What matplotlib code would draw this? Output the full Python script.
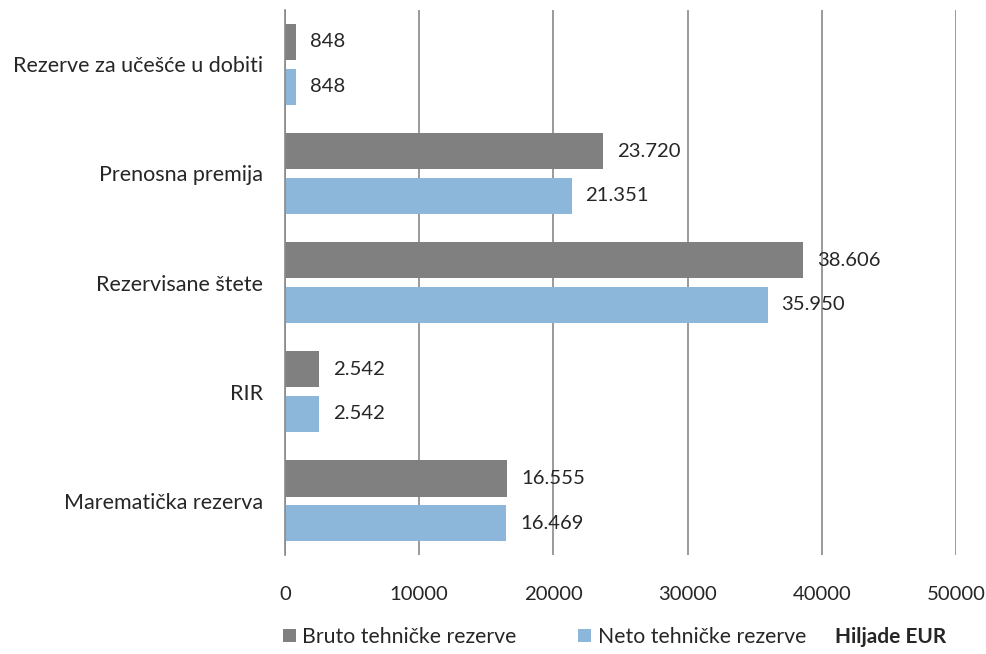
import numpy as np
import matplotlib.pyplot as plt

# data (bottom to top)
categories = ['Marematička rezerva', 'RIR', 'Rezervisane štete', 'Prenosna premija', 'Rezerve za učešće u dobiti']
bruto = [16555, 2542, 38606, 23720, 848]
neto = [16469, 2542, 35950, 21351, 848]
bruto_lbl = ['16.555', '2.542', '38.606', '23.720', '848']
neto_lbl = ['16.469', '2.542', '35.950', '21.351', '848']

plt.rcParams['font.family'] = ['Lato', 'DejaVu Sans']
fs = 14.6

fig = plt.figure(figsize=(9.86, 6.54), dpi=100)
ax = fig.add_axes([0.289, 0.151, 0.6807, 0.834])

y = np.arange(len(categories))
h = 0.333
off = 0.205
b1 = ax.barh(y + off, bruto, h, color='#808080', label='Bruto tehničke rezerve')
b2 = ax.barh(y - off, neto, h, color='#8db6db', label='Neto tehničke rezerve')

for rects, lbls in ((b1, bruto_lbl), (b2, neto_lbl)):
    for r, t in zip(rects, lbls):
        ax.annotate(t, (r.get_width(), r.get_y() + r.get_height() / 2),
                    xytext=(10, 0), textcoords='offset points',
                    ha='left', va='center', fontsize=fs, color='#262626')

ax.set_xlim(0, 50000)
ax.set_ylim(-0.5, 4.5)
ax.set_xticks(range(0, 50001, 10000))
ax.set_yticks(y)
ax.set_yticklabels(categories)
ax.xaxis.grid(True, color='#898989', linewidth=1.2)
ax.set_axisbelow(True)
for s in ['top', 'right', 'bottom']:
    ax.spines[s].set_visible(False)
ax.spines['left'].set_color('#898989')
ax.spines['left'].set_linewidth(1.2)
ax.tick_params(axis='y', length=0, pad=16, labelsize=15.5, labelcolor='#262626')
ax.tick_params(axis='x', length=0, pad=22, labelsize=fs, labelcolor='#262626')

fig.legend(handles=[b1, b2], loc='center left', bbox_to_anchor=(0.268, 0.026),
           ncol=2, frameon=False, fontsize=15.3, handlelength=0.6, handleheight=0.6,
           handletextpad=0.3, columnspacing=2.9, labelcolor='#262626')
fig.text(0.847, 0.026, 'Hiljade EUR', fontsize=15, fontweight='bold', va='center', color='#262626')

fig.savefig('out.png', dpi=100)
